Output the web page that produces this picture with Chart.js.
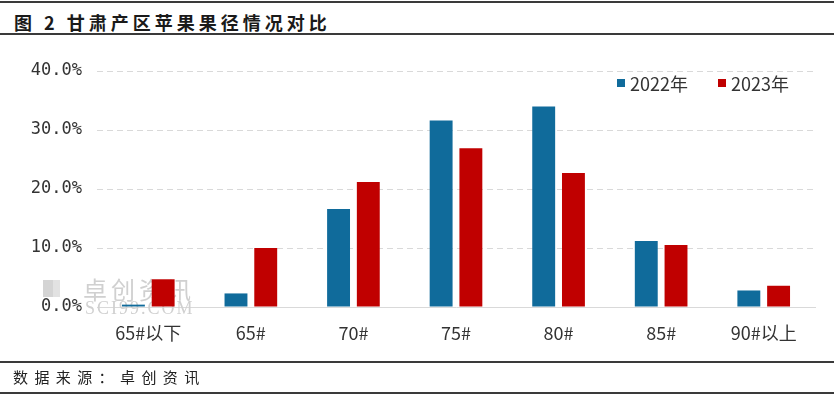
<!DOCTYPE html>
<html>
<head>
<meta charset="utf-8">
<script src="https://cdn.jsdelivr.net/npm/chart.js@4"></script>
<style>
    html, body { margin: 0; padding: 0; background: #fff; }
    #wrap { position: relative; width: 834px; height: 397px; overflow: hidden; background: #fff; }
    #chart { position: absolute; left: 0; top: 0; }
    .rule { position: absolute; left: 0; width: 834px; background: #3a3a3a; }
    .title { position: absolute; left: 14px; top: 9px; font: bold 18px "Noto Sans CJK SC", sans-serif; letter-spacing: 4px; color: #1a1a1a; line-height: 26px; }
    .source { position: absolute; left: 13px; top: 366px; font: 15px "Noto Sans CJK SC", sans-serif; letter-spacing: 6.4px; color: #222; line-height: 22px; }
</style>
</head>
<body>
<div id="wrap">
    <div class="rule" style="top:1px;height:2px"></div>
    <div class="title">图 2 甘肃产区苹果果径情况对比</div>
    <div class="rule" style="top:33px;height:2px"></div>
    <canvas id="chart" width="834" height="397"></canvas>
    <div class="rule" style="top:361px;height:2px"></div>
    <div class="source">数据来源：卓创资讯</div>
    <div class="rule" style="top:392px;height:2px"></div>
</div>
<script>
// ── Data ─────────────────────────────────────
const categories = ['65#以下', '65#', '70#', '75#', '80#', '85#', '90#以上'];
const seriesNames = ['2022年', '2023年'];
const values2022 = [0.4, 2.3, 16.6, 31.6, 34.0, 11.2, 2.8];
const values2023 = [4.7, 10.0, 21.2, 26.9, 22.7, 10.5, 3.6];
const yTicks = [0, 10, 20, 30, 40];

const BLUE = '#106b9b';
const RED = '#c00000';
const LABEL_FONT = '"Noto Sans CJK SC", sans-serif';

// ── Legend drawn inside plot area ────────────
const innerLegend = {
    id: 'innerLegend',
    afterDraw(chart) {
        const ctx = chart.ctx;
        const area = chart.chartArea;
        let x = area.right - 198;
        const y = area.top + 12;
        ctx.save();
        ctx.font = '18px ' + LABEL_FONT;
        ctx.textBaseline = 'middle';
        chart.data.datasets.forEach(ds => {
            ctx.fillStyle = ds.backgroundColor;
            ctx.fillRect(x, y - 4, 8, 8);
            ctx.fillStyle = '#333';
            ctx.fillText(ds.label, x + 13, y + 1);
            x += 101;
        });
        ctx.restore();
    }
};

// ── Faint watermark (behind bars) ────────────
const watermark = {
    id: 'watermark',
    beforeDatasetsDraw(chart) {
        const ctx = chart.ctx;
        const area = chart.chartArea;
        ctx.save();
        ctx.fillStyle = '#d4d4d4';
        ctx.fillRect(area.left - 54, area.bottom - 27, 10, 17);
        ctx.fillStyle = '#e2e2e2';
        ctx.fillRect(area.left - 44, area.bottom - 27, 7, 17);
        ctx.fillStyle = '#d0d0d0';
        ctx.font = '24px ' + LABEL_FONT;
        ctx.textBaseline = 'middle';
        if ('letterSpacing' in ctx) ctx.letterSpacing = '4px';
        ctx.fillText('卓创资讯', area.left - 14, area.bottom - 17);
        ctx.font = '18px "Liberation Serif", serif';
        if ('letterSpacing' in ctx) ctx.letterSpacing = '2px';
        ctx.fillText('SCI99.COM', area.left - 12, area.bottom + 2);
        ctx.restore();
    }
};

new Chart(document.getElementById('chart'), {
    type: 'bar',
    data: {
        labels: categories,
        datasets: [
            { label: seriesNames[0], data: values2022, backgroundColor: BLUE },
            { label: seriesNames[1], data: values2023, backgroundColor: RED },
        ],
    },
    options: {
        responsive: false,
        animation: false,
        layout: { padding: { top: 71, right: 19, left: 0, bottom: 0 } },
        datasets: { bar: { categoryPercentage: 0.58, barPercentage: 0.77 } },
        plugins: { legend: { display: false }, tooltip: { enabled: false } },
        scales: {
            x: {
                afterFit: s => { s.height = 90; },
                grid: { display: false, drawTicks: false },
                border: { color: '#d9d9d9', width: 1 },
                ticks: { color: '#333', padding: 15, font: { family: LABEL_FONT, size: 18 } },
            },
            y: {
                min: 0,
                max: 40,
                afterFit: s => { s.width = 97; },
                afterBuildTicks: s => { s.ticks = yTicks.map(v => ({ value: v })); },
                grid: { color: '#d9d9d9', drawTicks: false },
                border: { display: false, dash: [6, 4] },
                ticks: {
                    color: '#333',
                    padding: 15,
                    font: { family: '"DejaVu Sans Mono", monospace', size: 17 },
                    callback: v => v.toFixed(1) + '%',
                },
            },
        },
    },
    plugins: [watermark, innerLegend],
});
</script>
</body>
</html>
